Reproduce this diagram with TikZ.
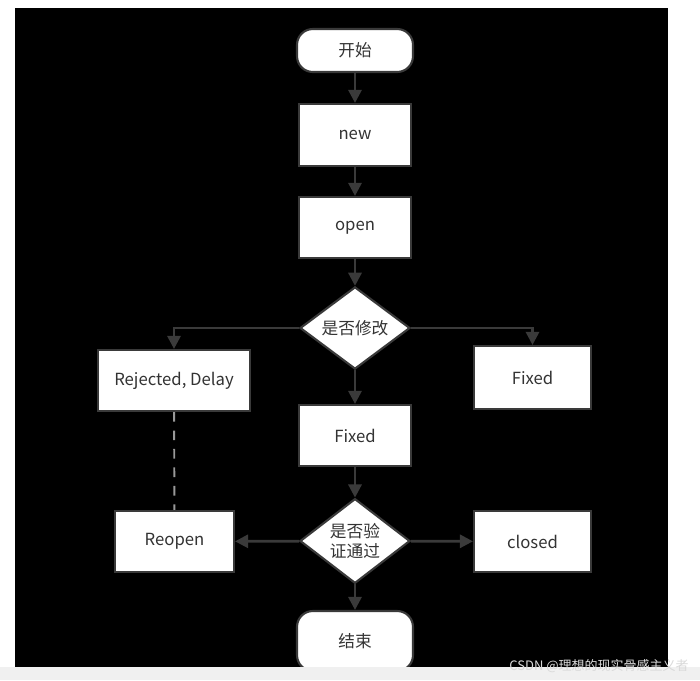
\documentclass[tikz,border=0pt]{standalone}
\usepackage{fontspec}
\setmainfont{Noto Sans CJK SC}
\usetikzlibrary{arrows.meta, shapes.geometric}
\definecolor{linegray}{HTML}{3A3A3A}
\definecolor{textgray}{HTML}{333333}

\begin{document}
\begin{tikzpicture}[x=0.02cm, y=-0.02cm, box/.style={draw=linegray, line width=1.2pt, fill=white, text=textgray, font=\fontsize{9.5}{11}\selectfont, inner sep=0pt}, term/.style={box, rounded corners=9pt, minimum width=2.32cm}, ask/.style={box, diamond, minimum width=2.2cm, minimum height=1.6cm, align=center}, flow/.style={-{Triangle[length=7.5pt,width=7.5pt]}, draw=linegray, line width=1.6pt}, link/.style={draw=gray!80, line width=1.1pt, dash pattern=on 5.5pt off 5pt}]

\useasboundingbox (0,0) rectangle (700,680);
\fill[white] (0,0) rectangle (700,680); \fill[black] (15,8) rectangle (668,667);

\node[term, minimum height=0.86cm] (start) at (355,50.5) {开始};
\node[box, minimum width=2.24cm, minimum height=1.24cm] (new) at (355,135) {new};
\node[box, minimum width=2.24cm, minimum height=1.22cm] (open) at (355,227.5) {open};
\node[ask] (modify) at (355,328) {是否修改};
\node[box, minimum width=3.04cm, minimum height=1.22cm] (reject) at (174,380.5) {Rejected, Delay};
\node[box, minimum width=2.34cm, minimum height=1.26cm] (fixright) at (532.5,377.5) {Fixed};
\node[box, minimum width=2.24cm, minimum height=1.22cm] (fixed) at (355,435.5) {Fixed};
\node[ask, minimum height=1.64cm] (verify) at (355,541) {是否验\\证通过};
\node[box, minimum width=2.38cm, minimum height=1.22cm] (reopen) at (174.5,541.5) {Reopen};
\node[box, minimum width=2.34cm, minimum height=1.22cm] (closed) at (532.5,541.5) {closed};
\node[term, minimum height=1.2cm] (finish) at (355,641) {结束};

\draw[flow] (start) -- (new); \draw[flow] (new) -- (open); \draw[flow] (open) -- (modify);
\draw[flow] (modify.west) -| (reject.north); \draw[flow] (modify.east) -| (fixright.north);
\draw[flow] (modify) -- (fixed); \draw[flow] (fixed) -- (verify);
\draw[flow] (verify) -- (reopen); \draw[flow] (verify) -- (closed); \draw[flow] (verify) -- (finish);
\draw[link] (reject) -- (reopen);

\fill[black!6] (0,667) rectangle (700,680); \fill[white] (668,0) rectangle (700,667);
\node[text=black!15, font=\fontsize{7.4}{8}\selectfont, anchor=east, inner sep=0pt] (mark) at (689,666) {CSDN @理想的现实骨感主义者};
\end{tikzpicture}
\end{document}
